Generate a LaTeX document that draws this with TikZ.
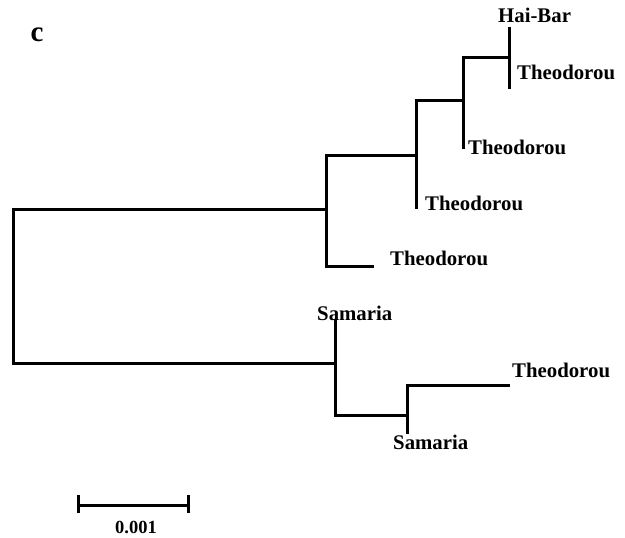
\documentclass[tikz,border=0pt]{standalone}
\usepackage{fontspec}
\setmainfont{Liberation Serif}
\begin{document}
\begin{tikzpicture}[x=1pt,y=-1pt,
  branch/.style={line width=3pt,line join=miter,line cap=rect},
  leaflabel/.style={font=\bfseries\fontsize{20.8}{24}\selectfont,inner sep=0pt},
  scalelabel/.style={font=\bfseries\fontsize{18.5}{20}\selectfont,inner sep=0pt}]
\useasboundingbox (0,0) rectangle (625,538);
% panel letter
\node[font=\bfseries\fontsize{29}{32}\selectfont,inner sep=0pt] (panel) at (37,35) {c};
% internal nodes
\coordinate (nA) at (326,209);
\coordinate (nB) at (416,155);
\coordinate (nC) at (463,100);
\coordinate (nD) at (509,57);
\coordinate (nE) at (335,363);
\coordinate (nF) at (407,415);
% leaf tips
\coordinate (tHB) at (509,28);
\coordinate (tT1) at (509,87);
\coordinate (tT2) at (463,147);
\coordinate (tT3) at (416,207);
\coordinate (tT4) at (372,266);
\coordinate (tS1) at (335,320);
\coordinate (tT5) at (508,385);
\coordinate (tS2) at (407,432);
% labels
\node[leaflabel,anchor=west] (lHB) at (498,15) {Hai-Bar};
\node[leaflabel,anchor=west] (lT1) at (517,72) {Theodorou};
\node[leaflabel,anchor=west] (lT2) at (468,147) {Theodorou};
\node[leaflabel,anchor=west] (lT3) at (425,203) {Theodorou};
\node[leaflabel,anchor=west] (lT4) at (390,258) {Theodorou};
\node[leaflabel,anchor=west] (lS1) at (317,313) {Samaria};
\node[leaflabel,anchor=west] (lT5) at (512,370) {Theodorou};
\node[leaflabel,anchor=west] (lS2) at (393,442) {Samaria};
% branches
\draw[branch] (nA) -| (13,363) -- (nE);
\draw[branch] (tT4) -| (nA |- 155,155) -- (nB);
\draw[branch] (tT3) -- (nB |- 100,100) -- (nC);
\draw[branch] (tT2) -- (nC |- 57,57) -- (nD);
\draw[branch] (tHB) -- (tT1);
\draw[branch] (tS1) -- (nE |- 415,415) -- (nF);
\draw[branch] (tS2) -- (nF |- 385,385) -- (tT5);
% scale bar
\coordinate (sL) at (78,505);
\coordinate (sR) at (188,505);
\draw[branch,line cap=butt] (sL) -- (sR);
\draw[line width=3pt] ([yshift=-8]sL) -- ([yshift=10]sL);
\draw[line width=3pt] ([yshift=-8]sR) -- ([yshift=10]sR);
\node[scalelabel] (scale) at (136,527) {0.001};
\end{tikzpicture}
\end{document}
